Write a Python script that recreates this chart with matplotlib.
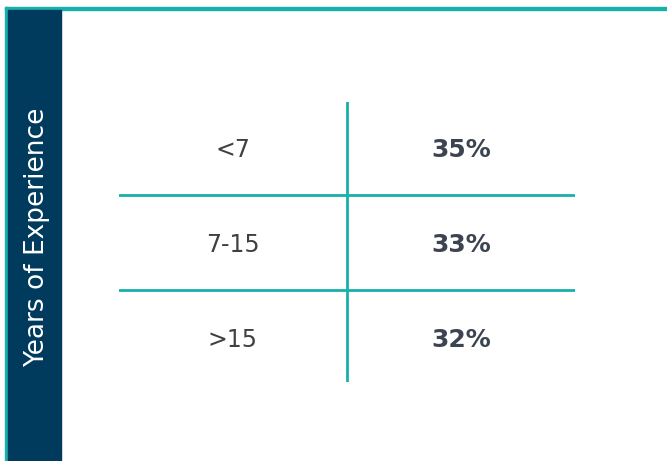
# Years of experience table
import matplotlib.pyplot as plt
from matplotlib.patches import Rectangle

categories = ["<7", "7-15", ">15"]
shares = [35, 33, 32]
side_title = "Years of Experience"

teal = "#17b0aa"
navy = "#003a5d"

W, H = 667, 461
fig = plt.figure(figsize=(W / 100, H / 100), dpi=100)
fig.patch.set_facecolor("white")

# frame: teal top and left edges, navy side band
fig.patches.append(Rectangle((5 / W, 0), 3 / W, (H - 7) / H, transform=fig.transFigure,
                             color=teal, zorder=1))
fig.patches.append(Rectangle((5 / W, (H - 10) / H), (W - 5) / W, 3 / H,
                             transform=fig.transFigure, color=teal, zorder=1))
fig.patches.append(Rectangle((8 / W, 0), 53 / W, (H - 10) / H, transform=fig.transFigure,
                             color=navy, zorder=2))
fig.text(37 / W, 1 - 237 / H, side_title, rotation=90, color="white",
         fontsize=19, ha="center", va="center")

# table area (rows centred on 0, 1, 2)
ax = fig.add_axes([119 / W, 1 - 382 / H, (575 - 119) / W, (382 - 102) / H])
ax.set_xlim(0, 2)
ax.set_ylim(2.45, -0.495)
ax.axis("off")

ax.axvline(1, color=teal, lw=2)
for i in range(len(categories) - 1):
    ax.axhline(i + 0.485, color=teal, lw=2)

for i, (cat, val) in enumerate(zip(categories, shares)):
    ax.text(0.5, i + 0.01, cat, ha="center", va="center", fontsize=17, color="#404040")
    ax.text(1.5, i + 0.01, f"{val}%", ha="center", va="center", fontsize=18,
            fontweight="bold", color="#3b4450")

fig.savefig("out.png", dpi=100)
